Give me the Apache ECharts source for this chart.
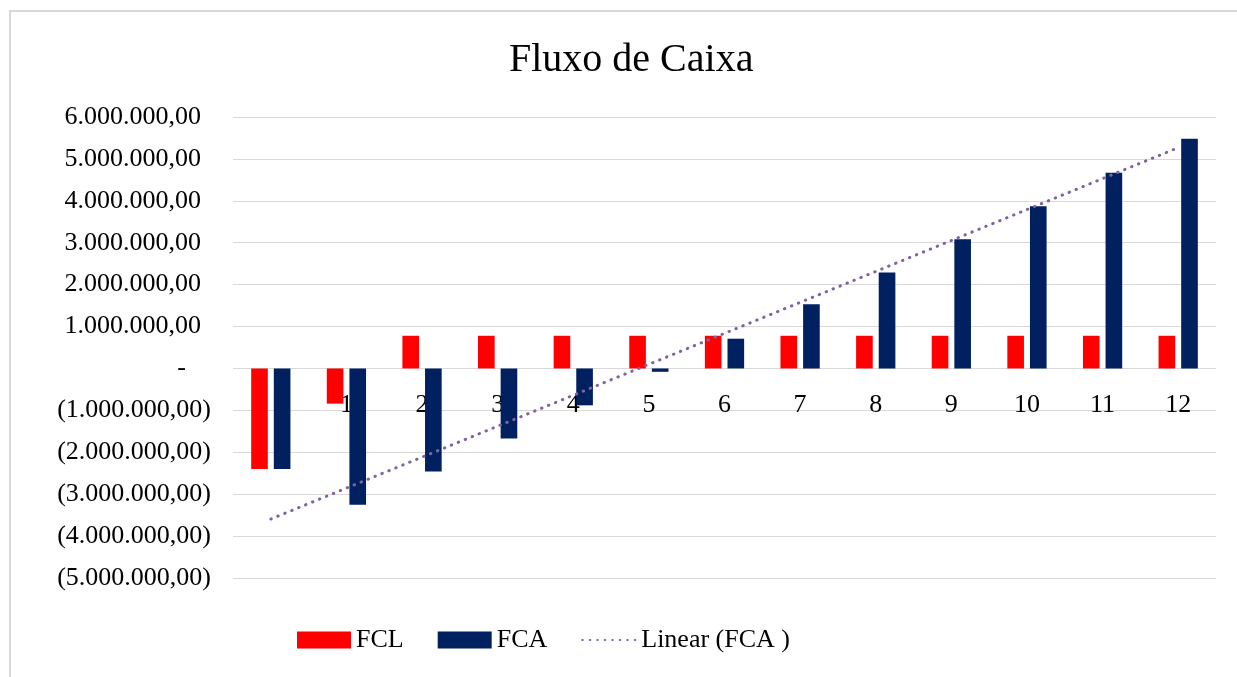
<!DOCTYPE html>
<html>
<head>
<meta charset="utf-8">
<script src="https://cdn.jsdelivr.net/npm/echarts@6/dist/echarts.min.js"></script>
<style>
  html, body { margin: 0; padding: 0; background: #fff; }
  #main { width: 1237px; height: 677px; }
</style>
</head>
<body>
<div id="main"></div>
<script>
  // categorias (anos)
  var anos = ['', '1', '2', '3', '4', '5', '6', '7', '8', '9', '10', '11', '12'];
  // fluxo de caixa livre
  var fcl = [-2400000, -840000, 780000, 780000, 780000, 780000, 780000, 780000, 780000, 780000, 780000, 780000, 780000];
  // fluxo de caixa acumulado
  var fca = [-2400000, -3250000, -2460000, -1670000, -880000, -80000, 710000, 1530000, 2290000, 3080000, 3870000, 4670000, 5480000];
  var nomes = ['FCL', 'FCA', 'Linear (FCA )'];

  // tendencia linear (minimos quadrados) sobre FCA
  function tendencia(ys) {
    var n = ys.length, sx = 0, sy = 0, sxy = 0, sxx = 0;
    for (var i = 0; i < n; i++) { sx += i; sy += ys[i]; sxy += i * ys[i]; sxx += i * i; }
    var b = (n * sxy - sx * sy) / (n * sxx - sx * sx);
    var a = (sy - b * sx) / n;
    var out = [];
    for (var j = 0; j < n; j++) out.push(a + b * j);
    return out;
  }
  var linear = tendencia(fca);

  function fmt(v) {
    var s = Math.abs(v).toFixed(2).split('.');
    var inteiro = s[0].replace(/\B(?=(\d{3})+(?!\d))/g, '.');
    return inteiro + ',' + s[1];
  }

  var fonte = '"Liberation Serif", "Times New Roman", serif';
  var myChart = echarts.init(document.getElementById('main'));

  // altura do grid: 6.000.000 em y=117, -5.000.000 em y=578
  var gridTop = 117, gridBottom = 99;
  var yMin = -5000000, yMax = 6000000;
  var alturaGrid = 677 - gridTop - gridBottom;
  // desloca o eixo X para a linha do zero
  var offsetX = -alturaGrid * (0 - yMin) / (yMax - yMin);

  myChart.setOption({
    textStyle: { fontFamily: fonte },
    title: {
      text: 'Fluxo de Caixa',
      left: 504,
      top: 35,
      textStyle: { fontFamily: fonte, fontSize: 40, fontWeight: 'normal', color: '#000' }
    },
    graphic: [{
      type: 'polyline',
      shape: { points: [[10, 677], [10, 11], [1237, 11]] },
      style: { stroke: '#d9d9d9', lineWidth: 2, fill: null }
    }],
    legend: {
      left: 292,
      top: 622,
      itemWidth: 54,
      itemHeight: 17,
      itemGap: 34,
      data: [
        { name: nomes[0], icon: 'rect' },
        { name: nomes[1], icon: 'rect' },
        { name: nomes[2], itemStyle: { opacity: 0 } }
      ],
      textStyle: { fontFamily: fonte, fontSize: 26, color: '#000' }
    },
    grid: {
      left: 233,
      right: 21,
      top: gridTop,
      bottom: gridBottom
    },
    xAxis: {
      type: 'category',
      data: anos,
      position: 'bottom',
      offset: offsetX,
      axisLine: { show: false, onZero: false },
      axisTick: { show: false },
      axisLabel: {
        margin: 24,
        interval: 0,
        fontFamily: fonte,
        fontSize: 26,
        color: '#000'
      }
    },
    yAxis: {
      type: 'value',
      min: yMin,
      max: yMax,
      interval: 1000000,
      axisLine: { show: false },
      axisTick: { show: false },
      splitLine: { lineStyle: { color: '#d9d9d9', width: 1 } },
      axisLabel: {
        margin: 22,
        formatter: function (v) {
          if (v === 0) return '{z|-}';
          if (v < 0) return '{n|(' + fmt(v) + ')}';
          return '{p|' + fmt(v) + '}';
        },
        rich: {
          p: { fontFamily: fonte, fontSize: 26, color: '#000', padding: [0, 10, 0, 0] },
          n: { fontFamily: fonte, fontSize: 26, color: '#000' },
          z: { fontFamily: fonte, fontSize: 26, color: '#000', padding: [0, 25, 0, 0] }
        }
      }
    },
    series: [
      {
        name: nomes[0],
        type: 'bar',
        data: fcl,
        barWidth: '22%',
        barGap: '36%',
        itemStyle: { color: '#ff0000' }
      },
      {
        name: nomes[1],
        type: 'bar',
        data: fca,
        barWidth: '22%',
        itemStyle: { color: '#002060' }
      },
      {
        name: nomes[2],
        type: 'line',
        data: linear,
        symbol: 'none',
        silent: true,
        itemStyle: { color: '#8064a2' },
        lineStyle: { color: '#8064a2', width: 3, type: [0.5, 7], cap: 'round' },
        z: 5
      }
    ]
  });
</script>
</body>
</html>
